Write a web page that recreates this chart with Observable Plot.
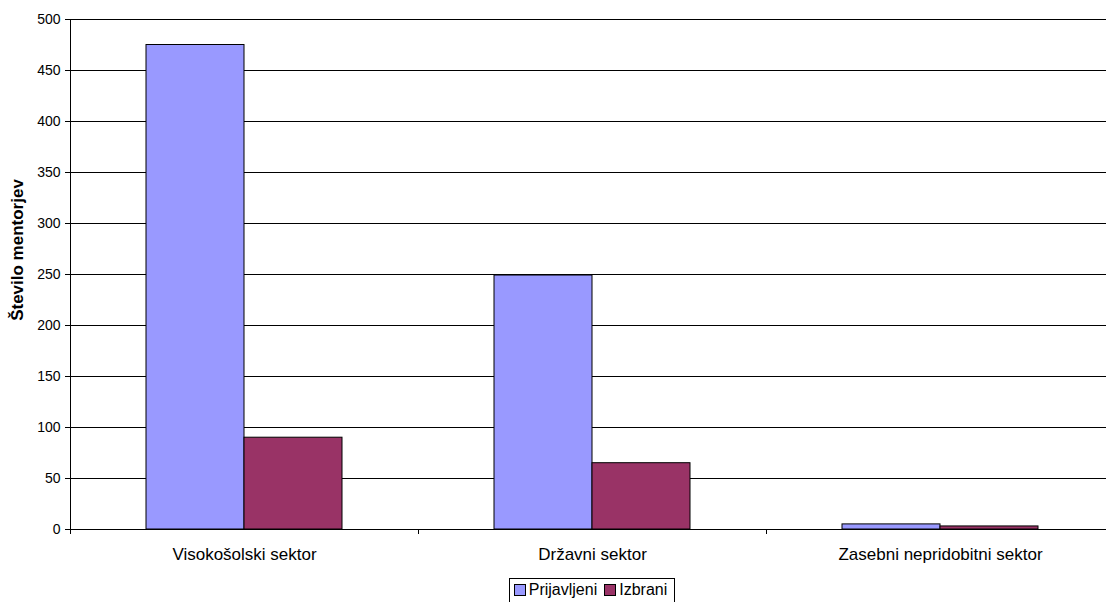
<!DOCTYPE html>
<html><head><meta charset="utf-8">
<script src="https://cdn.jsdelivr.net/npm/d3@7"></script>
<script src="https://cdn.jsdelivr.net/npm/@observablehq/plot@0.6"></script>
<style>
html,body{margin:0;background:#fff;font-family:"Liberation Sans",Arial,sans-serif;overflow:hidden;}
#wrap{width:1114px;}
#legend{display:flex;justify-content:center;margin-top:4px;padding-left:70px;}
.lg{border:1px solid #000;display:flex;align-items:center;padding:2px 7px 3px 4px;font-size:16px;line-height:18px;}
.sw{width:10px;height:10px;border:1px solid #000;display:inline-block;margin-right:3px;}
.item{display:flex;align-items:center;margin-right:7px;}
.item:last-child{margin-right:0;}
</style></head><body>
<div id="wrap"><div id="chart"></div><div id="legend"></div></div>
<script>
const categories = ["Visokošolski sektor", "Državni sektor", "Zasebni nepridobitni sektor"];
const series = ["Prijavljeni", "Izbrani"];
const prijavljeni = [475, 249, 5];
const izbrani = [90, 65, 3];
const colors = ["#9999FF", "#993366"];
const yTicks = [0, 50, 100, 150, 200, 250, 300, 350, 400, 450, 500];
const yLabel = "Število mentorjev";

const data = categories.flatMap((c, i) => [
  {category: c, series: series[0], value: prijavljeni[i]},
  {category: c, series: series[1], value: izbrani[i]}
]);

const chart = Plot.plot({
  width: 1114, height: 574,
  marginLeft: 70, marginRight: 0, marginTop: 19, marginBottom: 45,
  style: {fontFamily: "Liberation Sans, Arial, sans-serif", fontSize: "14px", color: "#000", background: "#fff", overflow: "visible"},
  fx: {domain: categories, padding: 0, label: null},
  x: {domain: series, paddingInner: 0, paddingOuter: 0.758, axis: null},
  y: {domain: [0, 500], label: null},
  color: {domain: series, range: colors},
  marks: [
    Plot.ruleY(yTicks.filter(d => d > 0), {stroke: "#000", strokeWidth: 1, shapeRendering: "crispEdges"}),
    Plot.barY(data, {fx: "category", x: "series", y: "value", fill: "series", stroke: "#000", strokeWidth: 1}),
    Plot.ruleY([0], {stroke: "#000", shapeRendering: "crispEdges"}),
    Plot.axisY({ticks: yTicks, tickSize: 5, tickPadding: 5, label: null, fontSize: 14}),
    Plot.axisFx({anchor: "bottom", tickSize: 0, tickPadding: 18, fontSize: 17, label: null})
  ]
});
document.getElementById("chart").appendChild(chart);

// axis line and category boundary ticks from the library's scales
const fx = chart.scale("fx"), y = chart.scale("y");
const svg = d3.select(chart);
const y0 = y.apply(0), y1 = y.apply(500);
const xl = fx.apply(categories[0]);
const g = svg.append("g").attr("stroke", "#000").attr("shape-rendering", "crispEdges");
g.append("line").attr("x1", xl).attr("x2", xl).attr("y1", y0 + 5).attr("y2", y1);
const edges = categories.map(c => fx.apply(c)).concat([fx.apply(categories[categories.length - 1]) + fx.bandwidth]);
edges.forEach(e => g.append("line").attr("x1", e).attr("x2", e).attr("y1", y0).attr("y2", y0 + 5));

// y-axis title
svg.append("text")
  .attr("transform", "translate(17,250) rotate(-90)")
  .attr("text-anchor", "middle").attr("dy", "0.35em")
  .attr("font-family", "Liberation Sans, Arial, sans-serif")
  .attr("font-size", 17).attr("font-weight", "bold").attr("fill", "#000")
  .text(yLabel);

// legend
const lg = d3.select("#legend").append("div").attr("class", "lg");
series.forEach((s, i) => {
  const it = lg.append("div").attr("class", "item");
  it.append("span").attr("class", "sw").style("background", colors[i]);
  it.append("span").text(s);
});
</script>
</body></html>
